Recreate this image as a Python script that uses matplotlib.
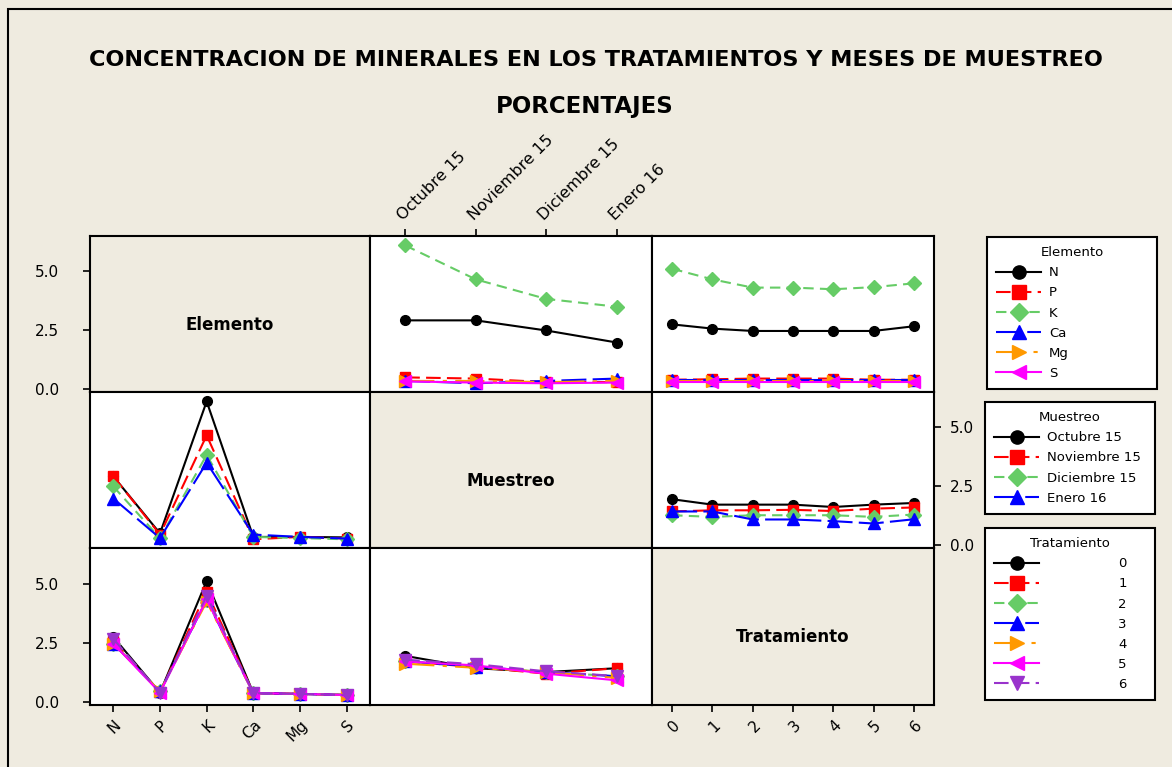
import numpy as np
import matplotlib.pyplot as plt
from matplotlib.lines import Line2D
from matplotlib.patches import Rectangle

# ============================================================
# DATOS (medias en %)
# ============================================================

elementos = ["N", "P", "K", "Ca", "Mg", "S"]
muestreos = ["Octubre 15", "Noviembre 15", "Diciembre 15", "Enero 16"]
tratamientos = ["0", "1", "2", "3", "4", "5", "6"]

# filas: elemento, columnas: muestreo
elem_mues = np.array([
    [2.92, 2.92, 2.49, 1.98],
    [0.50, 0.45, 0.30, 0.30],
    [6.10, 4.66, 3.83, 3.50],
    [0.35, 0.25, 0.35, 0.45],
    [0.35, 0.35, 0.30, 0.35],
    [0.33, 0.28, 0.25, 0.28],
])

# filas: elemento, columnas: tratamiento
elem_trat = np.array([
    [2.75, 2.57, 2.47, 2.47, 2.47, 2.47, 2.67],
    [0.40, 0.42, 0.45, 0.45, 0.45, 0.40, 0.40],
    [5.11, 4.66, 4.31, 4.31, 4.24, 4.33, 4.49],
    [0.38, 0.38, 0.38, 0.38, 0.38, 0.38, 0.38],
    [0.35, 0.35, 0.35, 0.35, 0.35, 0.35, 0.35],
    [0.30, 0.30, 0.30, 0.30, 0.30, 0.30, 0.30],
])

# filas: muestreo, columnas: tratamiento
mues_trat = np.array([
    [1.95, 1.72, 1.72, 1.72, 1.62, 1.72, 1.79],
    [1.43, 1.48, 1.48, 1.50, 1.45, 1.55, 1.60],
    [1.27, 1.20, 1.27, 1.27, 1.27, 1.20, 1.30],
    [1.43, 1.43, 1.09, 1.09, 1.02, 0.92, 1.10],
])

# ============================================================
# ESTILOS (tipo Minitab)
# ============================================================

colors = ["black", "#FF0000", "#66CC66", "#0000FF", "#FF9900", "#FF00FF", "#9933CC"]
markers = ["o", "s", "D", "^", ">", "<", "v"]
dashes = [None, (7, 3), (5, 3), (12, 3), (14, 4, 2, 4), None, (7, 3)]
msizes = [7, 7, 7, 8, 8, 8, 8]
BG = "#EFEBE0"

W, H = 1172, 767
fig = plt.figure(figsize=(W / 100, H / 100), dpi=100, facecolor=BG)
fig.patches.append(Rectangle((8 / W, -0.05), 1.1, 1 - 9 / H + 0.05, transform=fig.transFigure,
                             fill=False, edgecolor="black", linewidth=1.5))


def px_axes(x0, y0, x1, y1):
    return fig.add_axes([x0 / W, 1 - y1 / H, (x1 - x0) / W, (y1 - y0) / H])


def style_line(k, ms=None):
    kw = dict(color=colors[k], marker=markers[k], markersize=ms or msizes[k], linewidth=1.5,
              markeredgecolor=colors[k])
    if dashes[k] is not None:
        kw["dashes"] = dashes[k]
    return kw


def draw_panel(ax, data, nx):
    x = np.arange(nx)
    for k, row in enumerate(data):
        ax.plot(x, row, **style_line(k))
    ax.set_xlim(-0.5, nx - 0.5)
    ax.set_ylim(-0.12, 6.5)
    ax.set_facecolor("white")


xs = [90, 370, 652, 934]
ys = [236, 392, 548, 705]
axs = [[px_axes(xs[j], ys[i], xs[j + 1], ys[i + 1]) for j in range(3)] for i in range(3)]

for i in range(3):
    for j in range(3):
        ax = axs[i][j]
        ax.set_xticks([])
        ax.set_yticks([])
        for s in ax.spines.values():
            s.set_linewidth(1.5)

# diagonal
for i, name in enumerate(["Elemento", "Muestreo", "Tratamiento"]):
    ax = axs[i][i]
    ax.set_facecolor(BG)
    ax.text(0.5, 0.43, name, transform=ax.transAxes, ha="center", va="center",
            fontsize=12, fontweight="bold")

draw_panel(axs[0][1], elem_mues, 4)
draw_panel(axs[0][2], elem_trat, 7)
draw_panel(axs[1][0], elem_mues.T, 6)
draw_panel(axs[1][2], mues_trat, 7)
draw_panel(axs[2][0], elem_trat.T, 6)
draw_panel(axs[2][1], mues_trat.T, 4)

yt = [0.0, 2.5, 5.0]
ylab = ["0.0", "2.5", "5.0"]
tick_kw = dict(length=5, width=1.2, labelsize=11)

# ejes y izquierda (filas 1 y 3)
for i in (0, 2):
    ax = axs[i][0]
    ax.set_ylim(-0.12, 6.5)
    ax.set_yticks(yt)
    ax.set_yticklabels(ylab)
    ax.tick_params(axis="y", left=True, pad=17, **tick_kw)

# eje y derecha (fila 2)
ax = axs[1][2]
ax.set_yticks(yt)
ax.set_yticklabels(ylab)
ax.yaxis.tick_right()
ax.tick_params(axis="y", right=True, left=False, pad=6.5, **tick_kw)

# eje x: elementos abajo
ax = axs[2][0]
ax.set_xticks(np.arange(6))
ax.set_xticklabels(elementos, rotation=45, ha="right", rotation_mode="anchor")
ax.tick_params(axis="x", bottom=True, pad=4, **tick_kw)

# eje x: muestreo arriba
ax = axs[0][1]
ax.set_xticks(np.arange(4))
ax.xaxis.tick_top()
ax.set_xticklabels(muestreos, rotation=45, ha="left", rotation_mode="anchor")
ax.tick_params(axis="x", top=True, bottom=False, pad=4, length=5, width=1.2, labelsize=11.5)

# eje x: tratamientos abajo
ax = axs[2][2]
ax.set_xlim(-0.5, 6.5)
ax.set_xticks(np.arange(7))
ax.set_xticklabels(tratamientos, rotation=45, ha="right", rotation_mode="anchor")
ax.tick_params(axis="x", bottom=True, pad=4, **tick_kw)

# ============================================================
# TITULO
# ============================================================

fig.text(596 / W, 1 - 60 / H, "CONCENTRACION DE MINERALES EN LOS TRATAMIENTOS Y MESES DE MUESTREO",
         ha="center", va="center", fontsize=16.1, fontweight="bold")
fig.text(585 / W, 1 - 107 / H, "PORCENTAJES", ha="center", va="center",
         fontsize=16.5, fontweight="bold")

# ============================================================
# LEYENDAS
# ============================================================


def make_legend(title, labels, left, top, textpad=0.6):
    handles = [Line2D([], [], **style_line(k, ms=9.5)) for k in range(len(labels))]
    leg = fig.legend(handles, labels, title=title, loc="upper left",
                     bbox_to_anchor=(left / W, 1 - top / H, 170 / W, 0), mode="expand",
                     fontsize=9.5, title_fontsize=9.5, frameon=True, fancybox=False,
                     edgecolor="black", facecolor="white", framealpha=1,
                     handlelength=3.4, handletextpad=textpad, labelspacing=0.54,
                     borderpad=0.7, borderaxespad=0)
    leg.get_frame().set_linewidth(1.5)
    return leg


make_legend("Elemento", elementos, 987, 237)
make_legend("Muestreo", muestreos, 985, 402)
make_legend("Tratamiento", tratamientos, 985, 528, textpad=6.0)

fig.savefig("out.png", dpi=100, facecolor=BG)
